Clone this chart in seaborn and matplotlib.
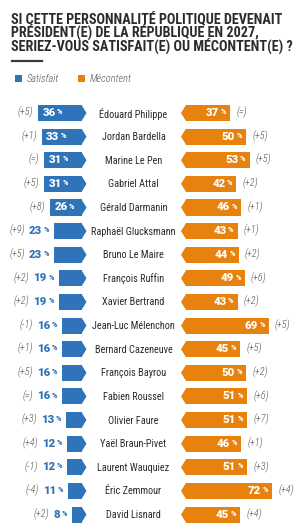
import matplotlib
matplotlib.use("Agg")
import matplotlib.pyplot as plt
from matplotlib.transforms import IdentityTransform
from matplotlib.patches import Polygon, Rectangle
from matplotlib.lines import Line2D
import seaborn as sns
import pandas as pd

# ---------------- data ----------------
names = ["Édouard Philippe", "Jordan Bardella", "Marine Le Pen", "Gabriel Attal",
         "Gérald Darmanin", "Raphaël Glucksmann", "Bruno Le Maire", "François Ruffin",
         "Xavier Bertrand", "Jean-Luc Mélenchon", "Bernard Cazeneuve", "François Bayrou",
         "Fabien Roussel", "Olivier Faure", "Yaël Braun-Pivet", "Laurent Wauquiez",
         "Éric Zemmour", "David Lisnard"]
satisfait = [36, 33, 31, 31, 26, 23, 23, 19, 19, 16, 16, 16, 16, 13, 12, 12, 11, 8]
satisfait_change = ["(+5)", "(+1)", "(=)", "(+5)", "(+8)", "(+9)", "(+5)", "(+2)", "(+2)",
                    "(-1)", "(+1)", "(+5)", "(=)", "(+3)", "(+4)", "(-1)", "(-4)", "(+2)"]
mecontent = [37, 50, 53, 42, 46, 43, 44, 49, 43, 69, 45, 50, 51, 51, 46, 51, 72, 45]
mecontent_change = ["(=)", "(+5)", "(+5)", "(+2)", "(+1)", "(+1)", "(+2)", "(+6)", "(+2)",
                    "(+5)", "(+5)", "(+2)", "(+6)", "(+7)", "(+1)", "(+3)", "(+4)", "(+4)"]
title_lines = ["SI CETTE PERSONNALITÉ POLITIQUE DEVENAIT",
               "PRÉSIDENT(E) DE LA RÉPUBLIQUE EN 2027,",
               "SERIEZ-VOUS SATISFAIT(E) OU MÉCONTENT(E) ?"]
legend_labels = ["Satisfait", "Mécontent"]

BLUE = "#2f74b8"
ORANGE = "#e8820e"
DARK = "#2b2b2b"
GRAY = "#555555"

df = pd.DataFrame({"name": names, "satisfait": satisfait, "mecontent": mecontent})

W, H = 297, 529
fig = plt.figure(figsize=(W / 100, H / 100), dpi=100)
fig.patch.set_facecolor("white")

PX = 1.2            # pixels per percent
n = len(names)
row_px = 23.62
top_center = H - 113
ax_bottom = top_center - (n - 1) * row_px - 0.5 * row_px
ax_h = n * row_px

axL = fig.add_axes([0, ax_bottom / H, 81.5 / W, ax_h / H])
axR = fig.add_axes([186 / W, ax_bottom / H, (W - 186) / W, ax_h / H])

sns.barplot(data=df, x="satisfait", y="name", orient="h", color=BLUE,
            saturation=1, width=0.68, ax=axL)
sns.barplot(data=df, x="mecontent", y="name", orient="h", color=ORANGE,
            saturation=1, width=0.68, ax=axR)

axL.set_xlim(81.5 / PX, 0)
axR.set_xlim(0, (W - 186) / PX)
for ax in (axL, axR):
    ax.set_ylim(n - 0.5, -0.5)
    ax.axis("off")

tip = 5.0 / PX
for p in axL.patches[:]:
    y0, h = p.get_y(), p.get_height()
    axL.add_patch(Polygon([(0, y0), (-tip, y0 + h / 2), (0, y0 + h)], closed=True,
                          facecolor=BLUE, edgecolor="none", clip_on=False))
for p in axR.patches[:]:
    y0, h = p.get_y(), p.get_height()
    axR.add_patch(Polygon([(0, y0), (-tip, y0 + h / 2), (0, y0 + h)], closed=True,
                          facecolor=ORANGE, edgecolor="none", clip_on=False))

renderer = fig.canvas.get_renderer()
ID = IdentityTransform()
COND = "Roboto Condensed"


def ptext(x, y, s, **kw):
    t = fig.text(x, y, s, transform=ID, **kw)
    return t, t.get_window_extent(renderer)


NUM_FS = 8.2
PCT_FS = 5.2
CH_FS = 7.4
NAME_FS = 7.4

for i in range(n):
    yc = axL.transData.transform((0, i))[1]
    # names
    fig.text(133.5, yc - 0.5, names[i], transform=ID, ha="center", va="center",
             fontsize=NAME_FS, family=COND, color=DARK)
    # blue
    v = satisfait[i]
    xl = axL.transData.transform((v, i))[0]
    if v >= 26:
        t, bb = ptext(xl + 4, yc, str(v), ha="left", va="center", fontsize=NUM_FS,
                      family="Roboto", weight=900, color="white")
        ptext(bb.x1 + 1.5, yc + 0.8, "%", ha="left", va="center", fontsize=PCT_FS,
              family="Roboto", weight=900, color="white")
        ptext(xl - 5, yc + 0.5, satisfait_change[i], ha="right", va="center",
              fontsize=CH_FS, family=COND, style="italic", weight=300, color=GRAY)
    else:
        t, bb = ptext(xl - 5, yc + 0.8, "%", ha="right", va="center", fontsize=PCT_FS,
                      family="Roboto", weight=900, color=BLUE)
        t, bb2 = ptext(bb.x0 - 1.5, yc, str(v), ha="right", va="center", fontsize=NUM_FS,
                       family="Roboto", weight=900, color=BLUE)
        ptext(bb2.x0 - 4, yc + 0.5, satisfait_change[i], ha="right", va="center",
              fontsize=CH_FS, family=COND, style="italic", weight=300, color=GRAY)
    # orange
    m = mecontent[i]
    xr = axR.transData.transform((m, i))[0]
    t, bb = ptext(xr - 4, yc + 0.8, "%", ha="right", va="center", fontsize=PCT_FS,
                  family="Roboto", weight=900, color="white")
    ptext(bb.x0 - 1.5, yc, str(m), ha="right", va="center", fontsize=NUM_FS,
          family="Roboto", weight=900, color="white")
    ptext(xr + 6, yc + 0.5, mecontent_change[i], ha="left", va="center",
          fontsize=CH_FS, family=COND, style="italic", weight=300, color=GRAY)

# title: one multi-line text, fitted to the reference's width and line pitch
title = "\n".join(title_lines)
fs = 10.0
ls = 1.0
tt = fig.text(11, H - 11, title, transform=ID, ha="left", va="top", fontsize=fs,
              family=COND, weight=700, color=DARK, linespacing=ls)
for _ in range(3):
    bb = tt.get_window_extent(renderer)
    fs *= 279.0 / bb.width
    tt.set_fontsize(fs)
    one = fig.text(0, 0, "LIGNE É,", transform=ID, fontsize=fs, family=COND,
                   weight=700, linespacing=ls)
    h1 = one.get_window_extent(renderer).height
    one.remove()
    h3 = tt.get_window_extent(renderer).height
    pitch = (h3 - h1) / 2.0
    ls *= 14.0 / pitch
    tt.set_linespacing(ls)

# divider
fig.add_artist(Line2D([12, 42], [H - 61, H - 61], transform=ID, color="#3a3a3a", lw=1.6))

# legend
for (x0, col, lab) in [(15, BLUE, legend_labels[0]), (78, ORANGE, legend_labels[1])]:
    fig.add_artist(Rectangle((x0, H - 81.5), 6.5, 6.5, transform=ID, facecolor=col,
                             edgecolor="none"))
    ptext(x0 + 12, H - 78.5, lab, ha="left", va="center", fontsize=7.5, family=COND,
          style="italic", weight=300, color=GRAY)

fig.savefig("out.png", dpi=100, facecolor="white")
